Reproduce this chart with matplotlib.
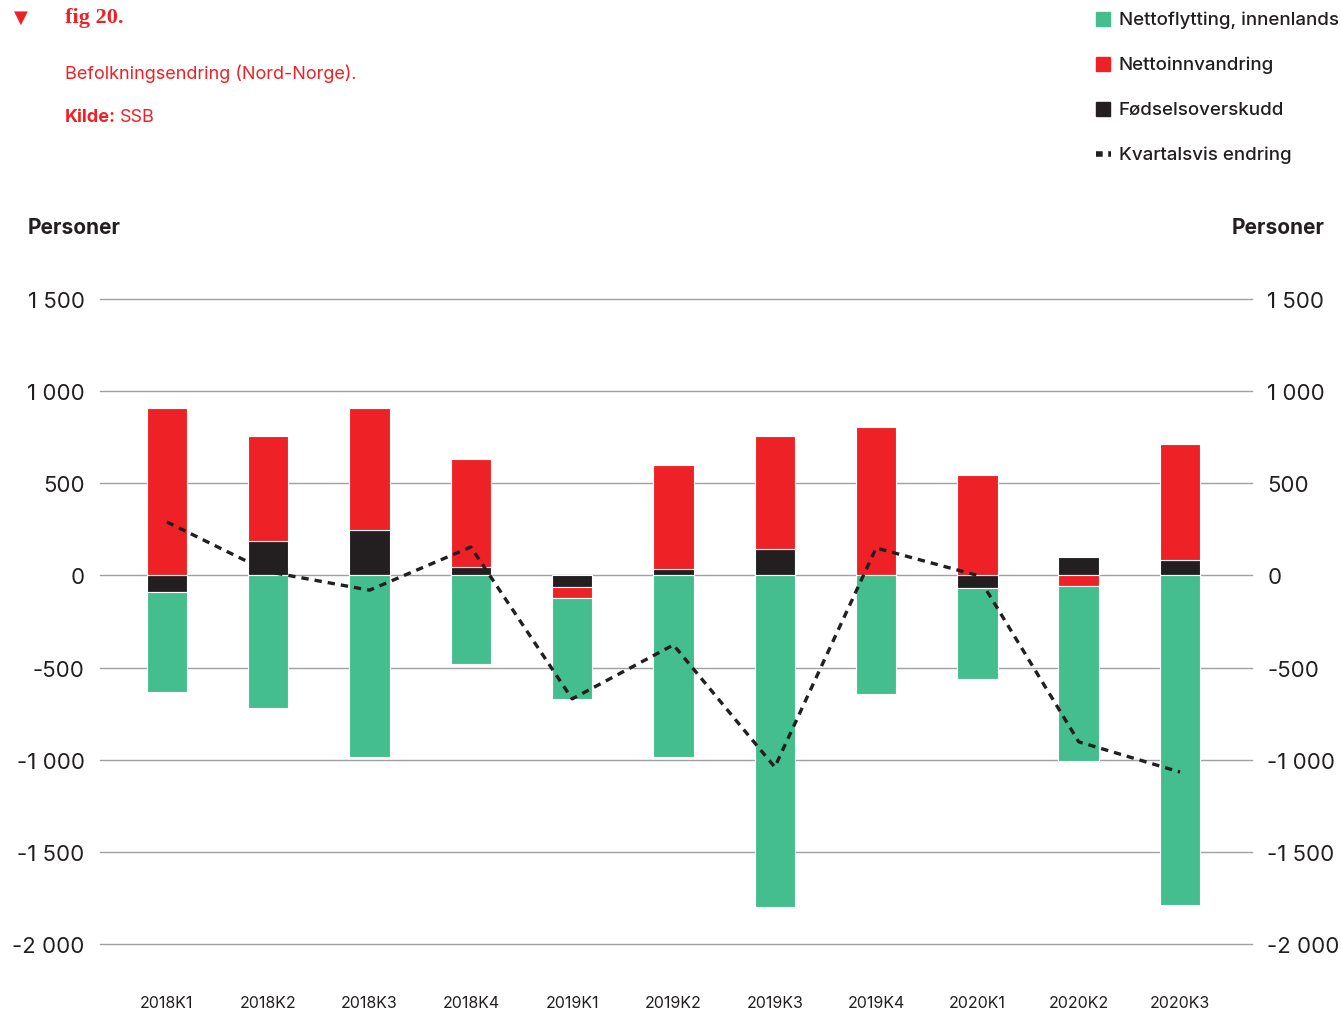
import numpy as np
import matplotlib.pyplot as plt
from matplotlib.patches import Rectangle
from matplotlib.lines import Line2D

plt.rcParams['font.family'] = ['Inter', 'DejaVu Sans']

# data
kvartal = ['2018K1', '2018K2', '2018K3', '2018K4', '2019K1', '2019K2',
           '2019K3', '2019K4', '2020K1', '2020K2', '2020K3']
fodselsoverskudd = np.array([-90, 187, 244, 46, -65, 35, 144, 0, -70, 100, 84])
nettoinnvandring = np.array([908, 570, 662, 586, -60, 564, 613, 806, 545, -57, 630])
nettoflytting = np.array([-543, -722, -984, -480, -543, -984, -1799, -643, -494, -950, -1787])
kvartalsvis_endring = [290, 20, -80, 154, -670, -377, -1040, 149, 0, -903, -1067]

yticks = [1500, 1000, 500, 0, -500, -1000, -1500, -2000]
ytick_labels = ['1 500', '1 000', '500', '0', '-500', '-1 000', '-1 500', '-2 000']

GREEN = '#45BE8F'
RED = '#EE2226'
BLACK = '#231F20'
TXT = '#231F20'

fig = plt.figure(figsize=(13.41, 10.12), dpi=100)
ax = fig.add_axes([100 / 1341, 1 - 945 / 1012, 1152 / 1341, 645 / 1012])

x = np.arange(len(kvartal))
pos_base = np.zeros(len(x))
neg_base = np.zeros(len(x))
# stack from zero outwards, positives up and negatives down
for vals, color in [(fodselsoverskudd, BLACK), (nettoinnvandring, RED), (nettoflytting, GREEN)]:
    bottom = np.where(vals >= 0, pos_base, neg_base)
    ax.bar(x, vals, 0.4, bottom=bottom, color=color, edgecolor='white',
           linewidth=0.8, zorder=2)
    pos_base += np.clip(vals, 0, None)
    neg_base += np.clip(vals, None, 0)

ax.plot(x, kvartalsvis_endring, color=BLACK, lw=2.4, linestyle=(0, (2.2, 1.8)), zorder=3)

for yv in yticks:
    ax.axhline(yv, color='#A0A0A0', lw=1.0, zorder=0, clip_on=False)

ax.set_xlim(-0.66, 10.71)
ax.set_ylim(-2000, 1500)
ax.set_yticks(yticks)
ax.set_yticklabels(ytick_labels)
for s in ax.spines.values():
    s.set_visible(False)
ax.tick_params(axis='y', length=0, pad=11, labelsize=16, labelcolor=TXT)
ax.set_xticks(x)
ax.set_xticklabels(kvartal)
ax.tick_params(axis='x', length=0, pad=37, labelsize=11.5, labelcolor=TXT)

ax2 = ax.twinx()
ax2.set_ylim(ax.get_ylim())
ax2.set_yticks(yticks)
ax2.set_yticklabels(ytick_labels)
for s in ax2.spines.values():
    s.set_visible(False)
ax2.tick_params(axis='y', length=0, pad=11, labelsize=16, labelcolor=TXT)

fig.text(28 / 1341, 1 - 228 / 1012, 'Personer', fontsize=15, fontweight='bold',
         color=TXT, va='center', ha='left')
fig.text(1325 / 1341, 1 - 228 / 1012, 'Personer', fontsize=15, fontweight='bold',
         color=TXT, va='center', ha='right')

# header
fig.text(14 / 1341, 1 - 18 / 1012, '▼', fontsize=13, color=RED, va='center', ha='left',
         family=['DejaVu Sans'])
fig.text(65 / 1341, 1 - 18 / 1012, 'fig 20.', fontsize=16, color=RED, va='center',
         ha='left', family=['Liberation Serif'], fontweight='bold')
fig.text(65 / 1341, 1 - 74 / 1012, 'Befolkningsendring (Nord-Norge).', fontsize=13,
         color=RED, va='center', ha='left')
fig.text(65 / 1341, 1 - 118 / 1012, 'Kilde:', fontsize=13, color=RED,
         va='center', ha='left', fontweight='bold')
fig.text(120 / 1341, 1 - 118 / 1012, 'SSB', fontsize=13, color=RED, va='center', ha='left')

# legend
legend_items = [('Nettoflytting, innenlands', GREEN, 20),
                ('Nettoinnvandring', RED, 65),
                ('Fødselsoverskudd', BLACK, 110)]
for label, color, ypix in legend_items:
    fig.add_artist(Rectangle((1096 / 1341, 1 - (ypix + 7) / 1012), 14 / 1341, 14 / 1012,
                             transform=fig.transFigure, color=color))
    fig.text(1119 / 1341, 1 - ypix / 1012, label, fontsize=13.5, color=TXT,
             va='center', ha='left', fontweight='medium')
fig.add_artist(Line2D([1096 / 1341, 1111 / 1341], [1 - 155 / 1012] * 2,
                      transform=fig.transFigure, color=BLACK, lw=4,
                      linestyle=(0, (1.2, 1.0))))
fig.text(1119 / 1341, 1 - 155 / 1012, 'Kvartalsvis endring', fontsize=13.5, color=TXT,
         va='center', ha='left', fontweight='medium')

fig.savefig('out.png', dpi=100)
